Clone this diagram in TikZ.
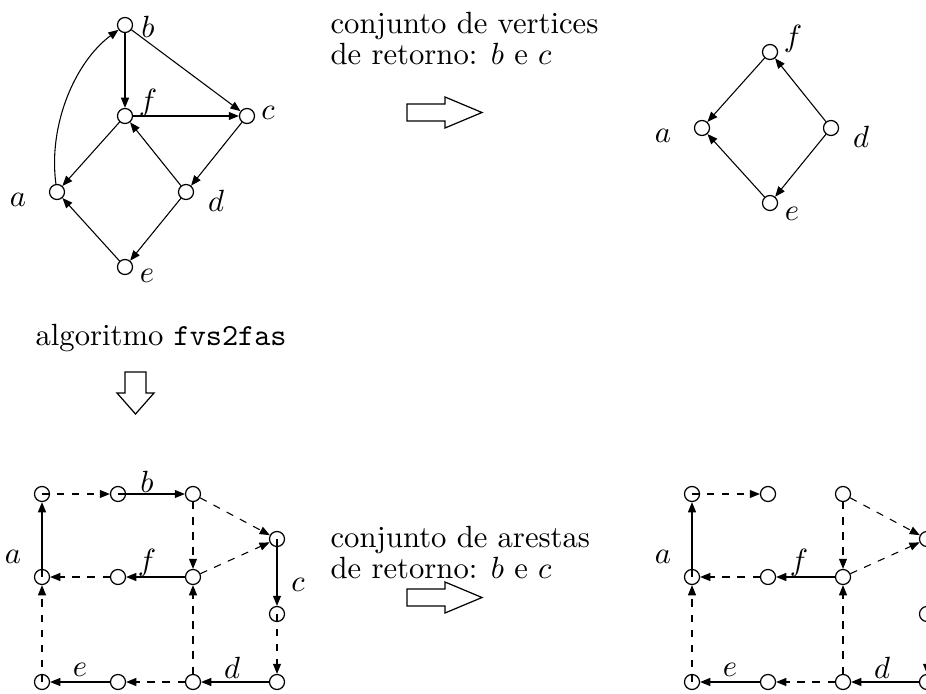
\documentclass[tikz,border=0pt]{standalone}
\usetikzlibrary{arrows.meta}
\begin{document}
\begin{tikzpicture}[x=0.326pt,y=-0.326pt,
  vtx/.style={circle,draw,minimum size=4.9pt,inner sep=0pt,line width=0.4pt},
  edge/.style={-{Triangle[length=3.3pt,width=2.6pt]},line width=0.35pt},
  dedge/.style={edge,dash pattern=on 2.4pt off 2.5pt},
  lbl/.style={inner sep=0pt},
  txt/.style={anchor=base west,inner sep=0pt},
  harrow/.style={draw,line width=0.4pt,line join=miter}]
\useasboundingbox (0,0) rectangle (926,694);
\clip (0,0) rectangle (926,694);

% ---------- top-left graph ----------
\node[vtx] (tb) at (125,25) {};
\node[vtx] (tf) at (125,116) {};
\node[vtx] (tc) at (247,116) {};
\node[vtx] (ta) at (57,192) {};
\node[vtx] (td) at (186,192) {};
\node[vtx] (te) at (125,267) {};
\node[lbl] at (148,27) {$b$};
\node[lbl] at (148,103) {$f$};
\node[lbl] at (268,113) {$c$};
\node[lbl] at (18,200) {$a$};
\node[lbl] at (216,201) {$d$};
\node[lbl] at (147,276) {$e$};
\draw[edge] (tb) -- (tf);
\draw[edge] (tb) -- (tc);
\draw[edge] (tf) -- (tc);
\draw[edge] (tf) -- (ta);
\draw[edge] (td) -- (tf);
\draw[edge] (tc) -- (td);
\draw[edge] (td) -- (te);
\draw[edge] (te) -- (ta);
\draw[edge] (ta) .. controls (48,125) and (75,62) .. (tb);

% ---------- top-right graph ----------
\node[vtx] (sf) at (770,52) {};
\node[vtx] (sa) at (702,128) {};
\node[vtx] (sd) at (831,128) {};
\node[vtx] (se) at (770,203) {};
\node[lbl] at (793,39) {$f$};
\node[lbl] at (663,136) {$a$};
\node[lbl] at (861,137) {$d$};
\node[lbl] at (792,214) {$e$};
\draw[edge] (sf) -- (sa);
\draw[edge] (sd) -- (sf);
\draw[edge] (sd) -- (se);
\draw[edge] (se) -- (sa);

% ---------- texts and hollow arrows ----------
\node[txt] (t1) at (330,34) {conjunto de vertices};
\node[txt] (t2) at (330,65) {de retorno: $b$ e $c$};
\draw[harrow] (407,104) -- (445,104) -- (445,97) -- (482,112.5) -- (445,128) -- (445,121) -- (407,121) -- cycle;

\node[txt] (t3) at (35,346) {algoritmo \texttt{fvs2fas}};
\draw[harrow] (125,372) -- (146,372) -- (146,393) -- (154,393) -- (135.5,414) -- (117,393) -- (125,393) -- cycle;

\node[txt] (t4) at (330,547) {conjunto de arestas};
\node[txt] (t5) at (330,578) {de retorno: $b$ e $c$};
\draw[harrow] (407,589) -- (445,589) -- (445,582) -- (482,597.5) -- (445,613) -- (445,606) -- (407,606) -- cycle;

% ---------- bottom-left graph ----------
\node[vtx] (l1) at (42,494) {};
\node[vtx] (l2) at (118,494) {};
\node[vtx] (l3) at (193,494) {};
\node[vtx] (l4) at (277,539) {};
\node[vtx] (l5) at (42,577) {};
\node[vtx] (l6) at (118,577) {};
\node[vtx] (l7) at (193,577) {};
\node[vtx] (l8) at (277,614) {};
\node[vtx] (l9) at (42,682) {};
\node[vtx] (l10) at (118,682) {};
\node[vtx] (l11) at (193,682) {};
\node[vtx] (l12) at (277,682) {};
\node[lbl] at (147,482) {$b$};
\node[lbl] at (147,563) {$f$};
\node[lbl] at (13,557) {$a$};
\node[lbl] at (298,585) {$c$};
\node[lbl] at (80,670) {$e$};
\node[lbl] at (232,668) {$d$};
\draw[dedge] (l1.center) -- (l2);
\draw[edge] (l2.center) -- (l3);
\draw[dedge] (l3) -- (l4);
\draw[dedge] (l3) -- (l7);
\draw[dedge] (l7) -- (l4);
\draw[edge] (l7) -- (l6);
\draw[dedge] (l6) -- (l5);
\draw[edge] (l5.center) -- (l1);
\draw[dedge] (l9.center) -- (l5);
\draw[edge] (l4.center) -- (l8);
\draw[dedge] (l8.center) -- (l12);
\draw[edge] (l12) -- (l11);
\draw[dedge] (l11) -- (l10);
\draw[edge] (l10) -- (l9);
\draw[dedge] (l11) -- (l7);

% ---------- bottom-right graph ----------
\node[vtx] (r1) at (692,494) {};
\node[vtx] (r2) at (768,494) {};
\node[vtx] (r3) at (843,494) {};
\node[vtx] (r4) at (927,539) {};
\node[vtx] (r5) at (692,577) {};
\node[vtx] (r6) at (768,577) {};
\node[vtx] (r7) at (843,577) {};
\node[vtx] (r8) at (927,614) {};
\node[vtx] (r9) at (692,682) {};
\node[vtx] (r10) at (768,682) {};
\node[vtx] (r11) at (843,682) {};
\node[vtx] (r12) at (927,682) {};
\node[lbl] at (799,563) {$f$};
\node[lbl] at (663,557) {$a$};
\node[lbl] at (730,670) {$e$};
\node[lbl] at (882,668) {$d$};
\draw[dedge] (r1.center) -- (r2);
\draw[dedge] (r3) -- (r4);
\draw[dedge] (r3) -- (r7);
\draw[dedge] (r7) -- (r4);
\draw[edge] (r7) -- (r6);
\draw[dedge] (r6) -- (r5);
\draw[edge] (r5.center) -- (r1);
\draw[dedge] (r9.center) -- (r5);
\draw[dedge] (r8.center) -- (r12);
\draw[edge] (r12) -- (r11);
\draw[dedge] (r11) -- (r10);
\draw[edge] (r10) -- (r9);
\draw[dedge] (r11) -- (r7);
\end{tikzpicture}
\end{document}
